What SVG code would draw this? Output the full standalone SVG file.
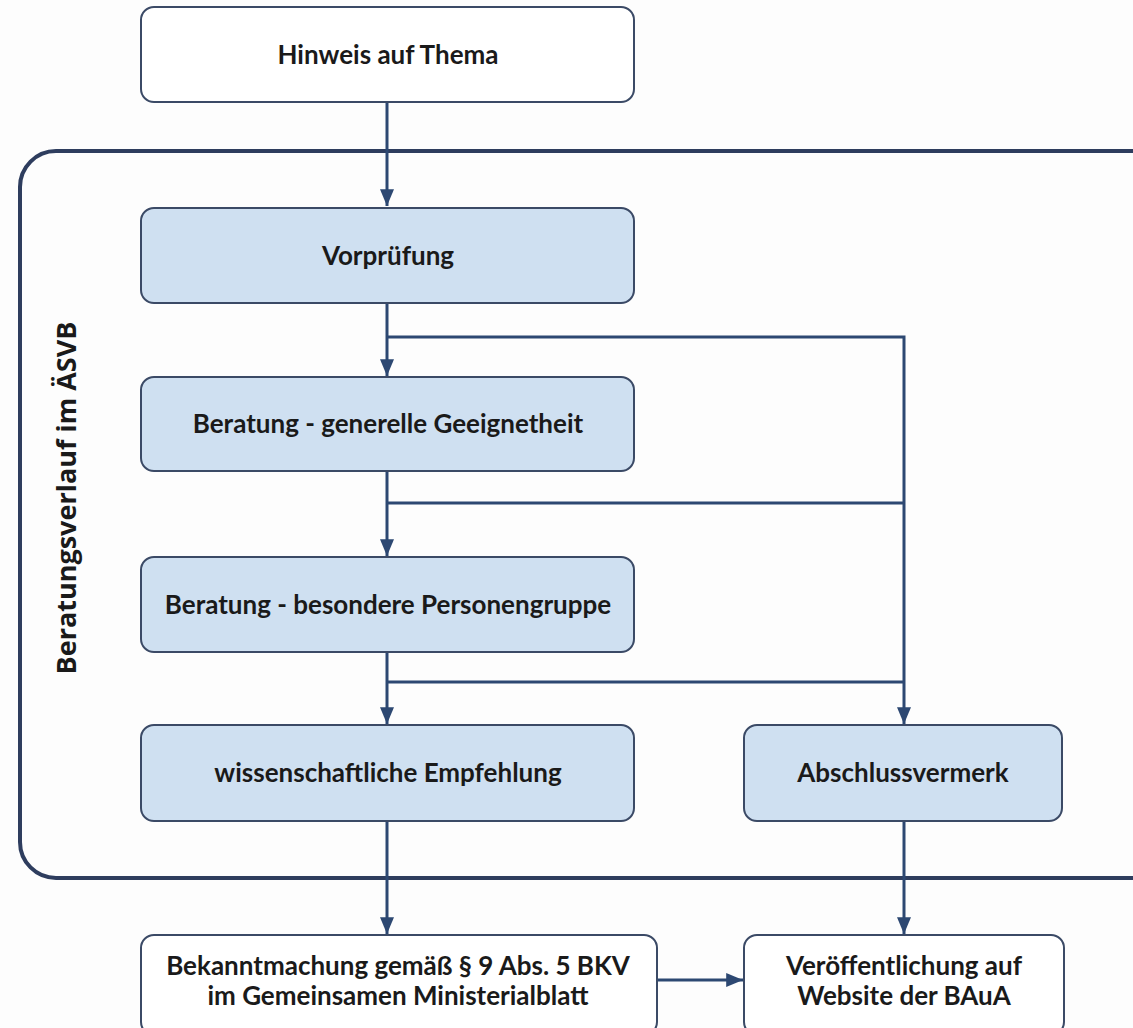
<svg xmlns="http://www.w3.org/2000/svg" width="1133" height="1028" viewBox="0 0 1133 1028">
<defs>
<style>
.box{fill:#ffffff;stroke:#3b4a66;stroke-width:2}
.blue{fill:#cfe0f1;stroke:#3b4a66;stroke-width:2}
.lbl{font-family:Lato,"Open Sans",sans-serif;font-weight:bold;font-size:26px;fill:#1a1a1a;text-anchor:middle}
.side{font-family:"Open Sans",sans-serif;font-weight:bold;font-size:27px;fill:#1a1a1a;text-anchor:middle}
.con{fill:none;stroke:#2d4872;stroke-width:3}
</style>
<marker id="ah" viewBox="0 0 12 10" refX="12" refY="5" markerWidth="5.6" markerHeight="4.7" orient="auto" markerUnits="strokeWidth">
<path d="M0,0 L12,5 L0,10 Z" fill="#2d4872"/>
</marker>
</defs>
<rect width="1133" height="1028" fill="#fdfdfd"/>
<g id="container">
<rect x="20" y="151" width="1146" height="727" rx="36" ry="36" fill="none" stroke="#2e3d5e" stroke-width="4"/>
<text class="side" transform="translate(76,498) rotate(-90)">Beratungsverlauf im ÄSVB</text>
</g>
<g id="connectors">
<path class="con" d="M387,102 V206" marker-end="url(#ah)"/>
<path class="con" d="M387,303 V376" marker-end="url(#ah)"/>
<path class="con" d="M387,337 H904 V724" marker-end="url(#ah)"/>
<path class="con" d="M387,471 V556" marker-end="url(#ah)"/>
<path class="con" d="M387,503 H904"/>
<path class="con" d="M387,652 V724" marker-end="url(#ah)"/>
<path class="con" d="M387,682 H904"/>
<path class="con" d="M387,821 V934" marker-end="url(#ah)"/>
<path class="con" d="M904,821 V934" marker-end="url(#ah)"/>
<path class="con" d="M657,980 H743" stroke-width="4" marker-end="url(#ah)"/>
</g>
<g id="n1"><rect class="box" x="141" y="7" width="493" height="95" rx="13"/><text class="lbl" x="388" y="64">Hinweis auf Thema</text></g>
<g id="n2"><rect class="blue" x="141" y="208" width="493" height="95" rx="13"/><text class="lbl" x="388" y="265">Vorprüfung</text></g>
<g id="n3"><rect class="blue" x="141" y="377" width="493" height="94" rx="13"/><text class="lbl" x="388" y="433">Beratung - generelle Geeignetheit</text></g>
<g id="n4"><rect class="blue" x="141" y="557" width="493" height="95" rx="13"/><text class="lbl" x="388" y="614">Beratung - besondere Personengruppe</text></g>
<g id="n5"><rect class="blue" x="141" y="725" width="493" height="96" rx="13"/><text class="lbl" x="388" y="782">wissenschaftliche Empfehlung</text></g>
<g id="n6"><rect class="blue" x="744" y="725" width="318" height="96" rx="13"/><text class="lbl" x="903" y="782">Abschlussvermerk</text></g>
<g id="n7"><rect class="box" x="141" y="935" width="516" height="100" rx="13"/><text class="lbl" x="398" y="975">Bekanntmachung gemäß § 9 Abs. 5 BKV</text><text class="lbl" x="398" y="1005">im Gemeinsamen Ministerialblatt</text></g>
<g id="n8"><rect class="box" x="744" y="935" width="320" height="100" rx="13"/><text class="lbl" x="904" y="975">Veröffentlichung auf</text><text class="lbl" x="904" y="1005">Website der BAuA</text></g>
</svg>
